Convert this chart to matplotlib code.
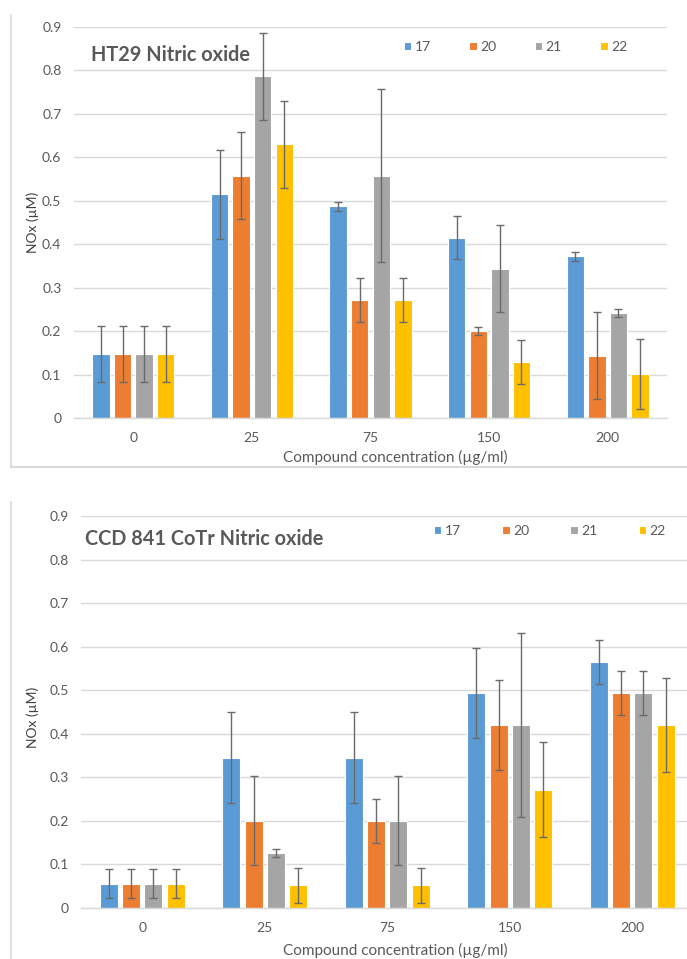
"""NOx release of HT29 and CCD 841 CoTr cells for compounds 17, 20, 21 and 22."""

import matplotlib as mpl
import matplotlib.pyplot as plt
import numpy as np
from matplotlib.lines import Line2D

mpl.rcParams["font.family"] = ["Lato", "DejaVu Sans"]

# %% data
concentrations = ["0", "25", "75", "150", "200"]
compounds = ["17", "20", "21", "22"]
colors = ["#5B9BD5", "#ED7D31", "#A5A5A5", "#FFC000"]

ht29_17 = [0.147, 0.515, 0.487, 0.415, 0.372]
ht29_20 = [0.147, 0.558, 0.272, 0.200, 0.143]
ht29_21 = [0.147, 0.787, 0.558, 0.344, 0.242]
ht29_22 = [0.147, 0.630, 0.272, 0.129, 0.101]
ht29_17_err = [0.065, 0.103, 0.010, 0.050, 0.010]
ht29_20_err = [0.065, 0.100, 0.051, 0.010, 0.100]
ht29_21_err = [0.065, 0.100, 0.200, 0.101, 0.010]
ht29_22_err = [0.065, 0.100, 0.050, 0.050, 0.080]

ccd_17 = [0.056, 0.345, 0.345, 0.493, 0.565]
ccd_20 = [0.056, 0.200, 0.200, 0.420, 0.493]
ccd_21 = [0.056, 0.126, 0.200, 0.420, 0.493]
ccd_22 = [0.056, 0.052, 0.052, 0.272, 0.420]
ccd_17_err = [0.033, 0.104, 0.104, 0.103, 0.050]
ccd_20_err = [0.033, 0.102, 0.050, 0.103, 0.050]
ccd_21_err = [0.033, 0.009, 0.102, 0.212, 0.050]
ccd_22_err = [0.033, 0.040, 0.040, 0.108, 0.107]

yticks = [0, 0.1, 0.2, 0.3, 0.4, 0.5, 0.6, 0.7, 0.8, 0.9]
ytick_labels = ["0", "0.1", "0.2", "0.3", "0.4", "0.5", "0.6", "0.7", "0.8", "0.9"]

TEXT = "#595959"
GRID = "#D9D9D9"


def bar_panel(ax, means, errs, title, title_xy, legend_xy, legend_gap,
              xlabel_xy, ylabel_xy):
    x = np.arange(len(concentrations))
    pitch, width = 0.182, 0.148
    for i, (m, e) in enumerate(zip(means, errs)):
        ax.bar(x + (i - 1.5) * pitch, m, width, color=colors[i], edgecolor="white",
               linewidth=0.8, label=compounds[i], zorder=2,
               yerr=e, error_kw=dict(ecolor="#6A6A6A", elinewidth=1, capsize=3.2,
                                     capthick=1, zorder=3))
    ax.set_xlim(-0.5, len(concentrations) - 0.5)
    ax.set_ylim(0, 0.9)
    ax.set_yticks(yticks, ytick_labels)
    ax.set_xticks(x, concentrations)
    ax.tick_params(length=0, labelsize=10, labelcolor=TEXT)
    ax.tick_params(axis="y", pad=9)
    ax.tick_params(axis="x", pad=10)
    ax.grid(axis="y", color=GRID, linewidth=1, zorder=0)
    for side in ["top", "right", "left"]:
        ax.spines[side].set_visible(False)
    ax.spines["bottom"].set_color(GRID)
    ax.spines["bottom"].set_linewidth(1)

    ax.text(title_xy[0], title_xy[1], title, transform=ax.transAxes, fontsize=14.3,
            fontweight="bold", color=TEXT, ha="left", va="center")
    ax.set_xlabel("Compound concentration (µg/ml)", fontsize=11, color=TEXT)
    ax.xaxis.set_label_coords(*xlabel_xy)
    ax.set_ylabel("NOx (µM)", fontsize=10, color="#404040")
    ax.yaxis.set_label_coords(*ylabel_xy)
    ax.legend(ncol=4, loc="center left", bbox_to_anchor=legend_xy, frameon=False,
              fontsize=10, labelcolor=TEXT, handlelength=0.55, handleheight=0.55,
              handletextpad=0.25, columnspacing=legend_gap, borderpad=0,
              borderaxespad=0)


fig = plt.figure(figsize=(6.87, 9.59), dpi=100)

# %% HT29
ax1 = fig.add_axes([74 / 687, 1 - 418 / 959, 593 / 687, 391 / 959])
bar_panel(ax1, [ht29_17, ht29_20, ht29_21, ht29_22],
          [ht29_17_err, ht29_20_err, ht29_21_err, ht29_22_err],
          "HT29 Nitric oxide", (0.029, 0.928), (0.556, 0.949), 2.75,
          (0.541, -0.082), (-0.059, 0.5))

# %% CCD 841 CoTr (cut at the right edge, as in the source)
ax2 = fig.add_axes([81 / 687, 1 - 908 / 959, 612.5 / 687, 392 / 959])
bar_panel(ax2, [ccd_17, ccd_20, ccd_21, ccd_22],
          [ccd_17_err, ccd_20_err, ccd_21_err, ccd_22_err],
          "CCD 841 CoTr Nitric oxide", (0.0065, 0.941), (0.576, 0.962), 2.95,
          (0.513, -0.090), (-0.069, 0.487))

# %% chart frames
fx = 11 / 687
fig.add_artist(Line2D([fx, fx], [1 - 467 / 959, 1 - 15 / 959], color=GRID, lw=1.2))
fig.add_artist(Line2D([fx, 1], [1 - 467 / 959, 1 - 467 / 959], color=GRID, lw=1.5))
fig.add_artist(Line2D([fx, fx], [0, 1 - 502 / 959], color=GRID, lw=1.2))

fig.savefig("out.png", dpi=100)
